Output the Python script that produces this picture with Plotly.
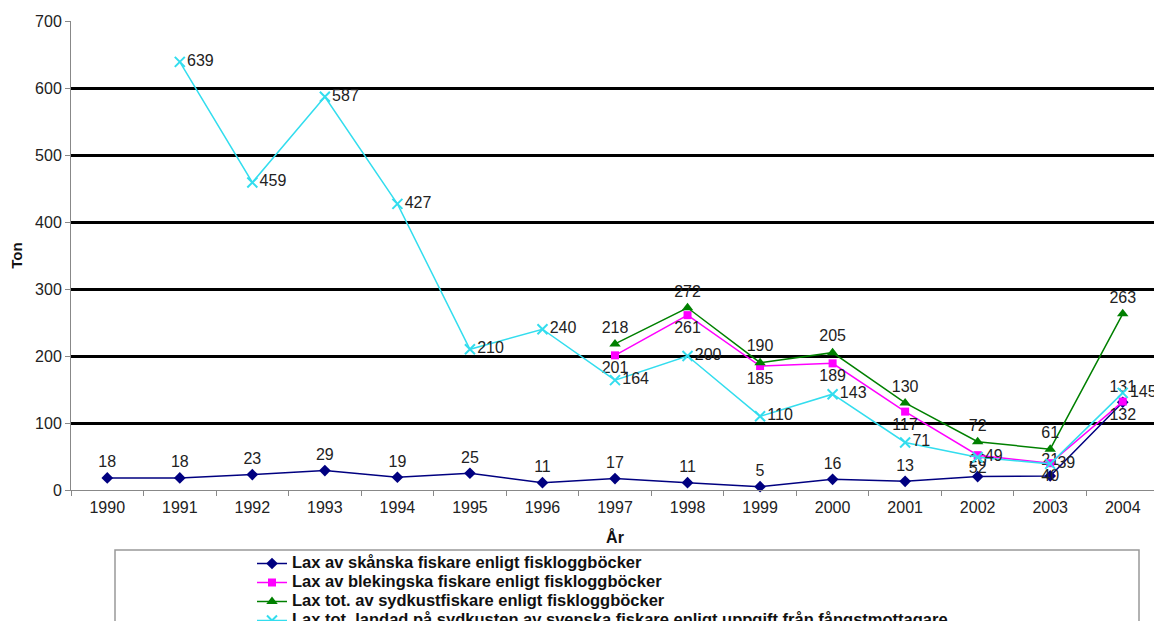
import plotly.graph_objects as go

years = [str(y) for y in range(1990, 2005)]

skanska_years = years
skanska = [18, 18, 23, 29, 19, 25, 11, 17, 11, 5, 16, 13, 20, 21, 131]

bleking_years = years[7:]
bleking = [201, 261, 185, 189, 117, 52, 40, 132]

sydkust_years = years[7:]
sydkust = [218, 272, 190, 205, 130, 72, 61, 263]

landad_years = years[1:]
landad = [639, 459, 587, 427, 210, 240, 164, 200, 110, 143, 71, 49, 39, 145]

names = [
    "Lax av skånska fiskare enligt fiskloggböcker",
    "Lax av blekingska fiskare enligt fiskloggböcker",
    "Lax tot. av sydkustfiskare enligt fiskloggböcker",
    "Lax tot. landad på sydkusten av svenska fiskare enligt uppgift från fångstmottagare",
]

FONT = "Liberation Sans, Arial, sans-serif"
lab_font = dict(family=FONT, size=16, color="#222")


def leg(name):
    return '<span style="font-size:16.5px">' + name + "</span>"


fig = go.Figure()
fig.add_trace(go.Scatter(
    x=skanska_years, y=skanska, name=leg(names[0]), mode="lines+markers+text",
    line=dict(color="#000080", width=1.5),
    marker=dict(symbol="diamond", size=9, color="#000080"),
    text=[str(v) for v in skanska], textposition="top center", textfont=lab_font,
    cliponaxis=False,
))
fig.add_trace(go.Scatter(
    x=bleking_years, y=bleking, name=leg(names[1]), mode="lines+markers+text",
    line=dict(color="#FF00FF", width=1.5),
    marker=dict(symbol="square", size=8, color="#FF00FF"),
    text=[str(v) for v in bleking], textposition="bottom center", textfont=lab_font,
    cliponaxis=False,
))
fig.add_trace(go.Scatter(
    x=sydkust_years, y=sydkust, name=leg(names[2]), mode="lines+markers+text",
    line=dict(color="#008000", width=1.5),
    marker=dict(symbol="triangle-up", size=10, color="#008000"),
    text=[str(v) for v in sydkust], textposition="top center", textfont=lab_font,
    cliponaxis=False,
))
fig.add_trace(go.Scatter(
    x=landad_years, y=landad, name=leg(names[3]), mode="lines+markers+text",
    line=dict(color="#33DDEE", width=1.5),
    marker=dict(symbol="x-thin", size=10, color="#33DDEE",
                line=dict(color="#33DDEE", width=2)),
    text=[str(v) for v in landad], textposition="middle right", textfont=lab_font,
    cliponaxis=False,
))

# page body has an 8px margin, so figure coords = window coords - 8
W, H = 1154, 613
L, R, T, B = 63, 3, 13, 131
pw = W - L - R
ph = H - T - B


def px_x(p):
    return (p - 8 - L) / pw


def px_y(p):
    return (H - B - (p - 8)) / ph


fig.update_layout(
    width=W, height=H,
    margin=dict(l=L, r=R, t=T, b=B, autoexpand=False),
    paper_bgcolor="white", plot_bgcolor="white",
    font=dict(family=FONT, size=16, color="#222"),
    showlegend=True,
    legend=dict(
        x=px_x(252), y=px_y(549), xanchor="left", yanchor="top",
        font=dict(family=FONT, size=12, color="#111", weight="bold"),
        bgcolor="rgba(0,0,0,0)", borderwidth=0,
        tracegroupgap=0, itemwidth=30,
    ),
    xaxis=dict(
        type="category", categoryorder="array", categoryarray=years,
        range=[-0.5, 14.5],
        showline=True, linecolor="#888", linewidth=1,
        ticks="outside", tickson="boundaries", ticklen=5, tickcolor="#888",
        ticklabelstandoff=3,
        showgrid=False, tickfont=dict(size=16, color="#222"),
        title=dict(text="<b>År</b>", font=dict(size=16, color="#111"), standoff=16),
    ),
    yaxis=dict(
        range=[0, 700], dtick=100,
        showline=True, linecolor="#888", linewidth=1,
        ticks="outside", ticklen=5, tickcolor="#888",
        showgrid=True, gridcolor="black", gridwidth=2.5,
        zeroline=True, zerolinecolor="#888", zerolinewidth=1,
        tickfont=dict(size=16, color="#222"),
        title=dict(text="<b>Ton</b>", font=dict(size=15, color="#111"), standoff=8),
    ),
    shapes=[
        dict(type="rect", xref="paper", yref="paper",
             x0=px_x(115), x1=px_x(1139), y0=px_y(660), y1=px_y(550),
             line=dict(color="#999", width=1.5), fillcolor="rgba(0,0,0,0)"),
        dict(type="line", xref="paper", yref="paper",
             x0=1, x1=1, y0=0, y1=1, line=dict(color="#888", width=1)),
    ],
)

fig.write_html("out.html")
